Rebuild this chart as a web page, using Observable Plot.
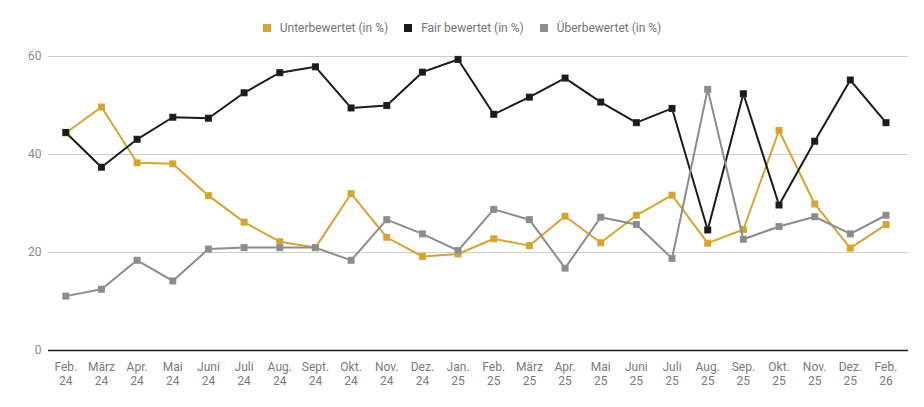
<!DOCTYPE html>
<html>
<head>
<meta charset="utf-8">
<script src="https://cdn.jsdelivr.net/npm/d3@7"></script>
<script src="https://cdn.jsdelivr.net/npm/@observablehq/plot@0.6"></script>
<style>
  body { margin: 0; background: #fff; font-family: Roboto, "Noto Sans", sans-serif; }
  #legend { height: 40px; display: flex; justify-content: center; align-items: flex-end; gap: 0; font-size: 12px; color: #757575; width: 924px; }
  #legend .item { display: flex; align-items: center; margin: 0 8px; line-height: 18px; padding-bottom: 3px; }
  #legend .sw { width: 8px; height: 8px; margin-right: 9px; display: inline-block; }
  #chart svg { display: block; }
</style>
</head>
<body>
<div id="legend"></div>
<div id="chart"></div>
<script>
const months = ["Feb.","März","Apr.","Mai","Juni","Juli","Aug.","Sept.","Okt.","Nov.","Dez.","Jan.","Feb.","März","Apr.","Mai","Juni","Juli","Aug.","Sep.","Okt.","Nov.","Dez.","Feb."];
const years  = ["24","24","24","24","24","24","24","24","24","24","24","25","25","25","25","25","25","25","25","25","25","25","25","26"];
const seriesNames = ["Unterbewertet (in %)", "Fair bewertet (in %)", "Überbewertet (in %)"];
const seriesColors = ["#d4a534", "#1b1b1b", "#8c8c8c"];
const unterbewertet = [44.4, 49.7, 38.3, 38.1, 31.6, 26.2, 22.2, 21.0, 32.0, 23.1, 19.2, 19.7, 22.8, 21.4, 27.4, 22.0, 27.6, 31.7, 21.9, 24.7, 44.9, 29.9, 20.9, 25.7];
const fair          = [44.5, 37.4, 43.1, 47.6, 47.4, 52.6, 56.7, 57.9, 49.5, 50.0, 56.8, 59.4, 48.2, 51.7, 55.6, 50.7, 46.5, 49.4, 24.6, 52.4, 29.7, 42.7, 55.2, 46.5];
const ueberbewertet = [11.1, 12.5, 18.4, 14.2, 20.7, 21.0, 21.0, 21.0, 18.4, 26.7, 23.8, 20.4, 28.8, 26.7, 16.8, 27.2, 25.7, 18.8, 53.3, 22.7, 25.3, 27.3, 23.8, 27.6];
const yTicks = [0, 20, 40, 60];

const labels = months.map((m, i) => m + " " + years[i] + "#" + i);
const allSeries = [unterbewertet, fair, ueberbewertet];
const rows = [];
allSeries.forEach((vals, s) => vals.forEach((v, i) => rows.push({key: labels[i], value: v, series: seriesNames[s]})));

// legend
const lg = document.getElementById("legend");
seriesNames.forEach((n, i) => {
  const it = document.createElement("div");
  it.className = "item";
  it.innerHTML = `<span class="sw" style="background:${seriesColors[i]}"></span><span>${n}</span>`;
  lg.appendChild(it);
});

const marks = [
  Plot.ruleY(yTicks.filter(d => d !== 0), {stroke: "#cfcfc8", strokeWidth: 1}),
  Plot.ruleY([0], {stroke: "#222", strokeWidth: 1.3})
];
seriesNames.forEach((n, s) => {
  const data = rows.filter(r => r.series === n);
  marks.push(Plot.line(data, {x: "key", y: "value", stroke: seriesColors[s], strokeWidth: 2}));
  marks.push(Plot.dot(data, {x: "key", y: "value", symbol: "square", r: 4, fill: seriesColors[s], stroke: "#ffffff", strokeOpacity: 0.25, strokeWidth: 0.5}));
});

const fmt = d => d.split("#")[0].replace(" ", "\n");
const chart = Plot.plot({
  width: 924,
  height: 367,
  marginTop: 16,
  marginBottom: 57,
  marginLeft: 48,
  marginRight: 16,
  style: {fontFamily: "Roboto, sans-serif", fontSize: "12px", color: "#777", background: "#fff"},
  x: {type: "point", domain: labels, padding: 0, round: false, range: [65.3, 885.5], label: null},
  y: {domain: [0, 60], ticks: yTicks, label: null},
  marks: [
    ...marks,
    Plot.axisX({tickSize: 0, tickPadding: 11, fill: "#7a7a7a", fontSize: 12, lineHeight: 1.15, tickFormat: fmt}),
    Plot.axisY({ticks: yTicks, tickSize: 0, tickPadding: 7, fill: "#8a8a8a", fontSize: 12})
  ]
});
document.getElementById("chart").appendChild(chart);
</script>
</body>
</html>
